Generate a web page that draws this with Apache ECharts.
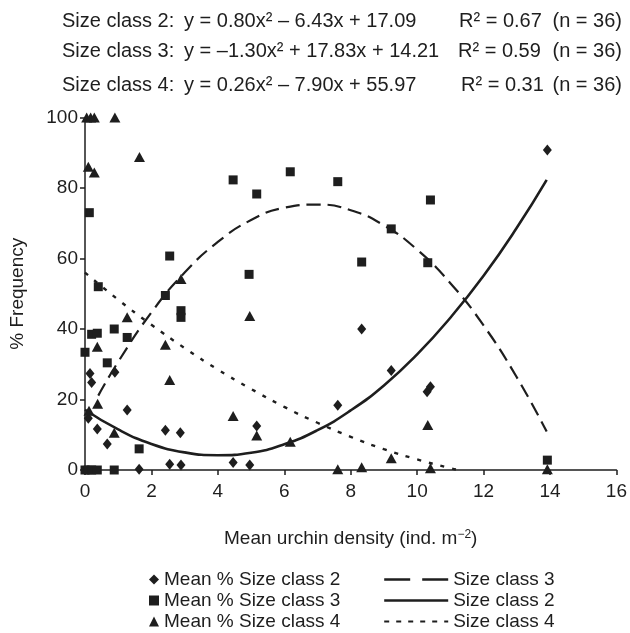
<!DOCTYPE html>
<html><head><meta charset="utf-8">
<script src="https://cdn.jsdelivr.net/npm/echarts@6/dist/echarts.min.js"></script>
<style>html,body{margin:0;padding:0;background:#fff}#c{width:630px;height:633px}</style>
</head><body><div id="c"></div>
<script>
// Scatter data: mean % frequency per size class vs urchin density
const class2X = [0.10, 0.15, 0.20, 0.37, 0.67, 0.90, 1.27, 1.63, 2.42, 2.55, 2.87, 2.89, 4.46, 4.96, 5.17, 7.61, 8.33, 9.22, 10.30, 10.40, 13.92];
const class2Y = [14.7, 27.4, 24.8, 11.6, 7.4, 27.7, 17.0, 0.2, 11.3, 1.6, 10.6, 1.4, 2.1, 1.4, 12.5, 18.4, 40.0, 28.2, 22.2, 23.6, 90.8];

const class3X = [0.00, 0.13, 0.20, 0.37, 0.40, 0.67, 0.88, 1.27, 1.63, 2.42, 2.55, 2.89, 2.89, 4.46, 4.94, 5.17, 6.18, 7.61, 8.33, 9.22, 10.32, 10.40, 13.92, 0.00, 0.10, 0.20, 0.37, 0.88];
const class3Y = [33.4, 73.0, 38.5, 38.8, 52.0, 30.4, 40.0, 37.6, 6.0, 49.5, 60.7, 45.2, 43.3, 82.3, 55.5, 78.3, 84.6, 81.8, 59.0, 68.4, 58.8, 76.6, 2.8, 0, 0, 0, 0, 0];

const class4X = [0.05, 0.17, 0.28, 0.90, 0.10, 0.28, 1.64, 2.89, 1.27, 2.42, 0.37, 2.55, 0.38, 0.12, 0.88, 4.46, 4.96, 5.17, 6.18, 9.22, 7.61, 8.33, 10.32, 10.40, 13.92];
const class4Y = [100, 100, 100, 100, 86.0, 84.4, 88.8, 54.2, 43.3, 35.5, 35.0, 25.5, 18.8, 16.8, 10.6, 15.3, 43.7, 9.8, 8.0, 3.3, 0.2, 0.8, 12.8, 0.5, 0.2];

// Fitted curves
const fit2X = [0, 1, 2, 3, 4, 5, 6, 7, 8, 9, 10, 11, 12, 13, 13.9];
const fit2Y = [17.1, 11.5, 7.4, 5.0, 4.2, 4.9, 7.3, 11.3, 16.9, 24.0, 32.8, 43.2, 55.1, 68.7, 82.3];
const fit3X = [0.4, 1, 2, 3, 4, 5, 6, 7, 8, 9, 10, 11, 12, 13, 13.9];
const fit3Y = [21.1, 30.7, 44.7, 56.0, 64.7, 70.9, 74.4, 75.3, 73.7, 69.4, 62.5, 53.0, 41.0, 26.3, 10.9];
const fit4X = [0, 1, 2, 3, 4, 5, 6, 7, 8, 9, 10, 11, 11.25];
const fit4Y = [56.0, 48.3, 41.2, 34.6, 28.5, 23.0, 17.9, 13.4, 9.4, 5.9, 3.0, 0.5, 0];

// Header texts
const headerLabels = ['Size class 2:', 'Size class 3:', 'Size class 4:'];
const headerEquations = ['y = 0.80x\u00b2 \u2013 6.43x + 17.09', 'y = \u20131.30x\u00b2 + 17.83x + 14.21', 'y = 0.26x\u00b2 \u2013 7.90x + 55.97'];
const headerR2 = ['R\u00b2 = 0.67', 'R\u00b2 = 0.59', 'R\u00b2 = 0.31'];
const headerN = ['(n = 36)', '(n = 36)', '(n = 36)'];

const scatterNames = ['Mean % Size class 2', 'Mean % Size class 3', 'Mean % Size class 4'];
const lineNames = ['Size class 3', 'Size class 2', 'Size class 4'];

const INK = '#1e1e1e';
const FONT = 'Liberation Sans, Arial, Helvetica, sans-serif';
const FS = 19;
const HFS = 20;

function pairs(xs, ys) { return xs.map((x, i) => [x, ys[i]]); }

const rowY = [21, 51, 85];
const rLeft = [459, 458, 461];
const graphics = [];
for (let i = 0; i < 3; i++) {
  const base = { fill: INK, font: HFS + 'px ' + FONT, verticalAlign: 'middle', align: 'left' };
  graphics.push({ type: 'text', x: 62, y: rowY[i], style: Object.assign({ text: headerLabels[i] }, base) });
  graphics.push({ type: 'text', x: 184, y: rowY[i], style: Object.assign({ text: headerEquations[i] }, base) });
  graphics.push({ type: 'text', x: rLeft[i], y: rowY[i], style: Object.assign({ text: headerR2[i] }, base) });
  graphics.push({ type: 'text', x: 622, y: rowY[i], style: Object.assign({}, base, { text: headerN[i], align: 'right' }) });
}

const chart = echarts.init(document.getElementById('c'), null, { renderer: 'canvas' });
chart.setOption({
  animation: false,
  backgroundColor: '#fff',
  textStyle: { fontFamily: FONT, color: INK },
  graphic: graphics,
  grid: { left: 81.5, right: 13, top: 117.5, bottom: 163, containLabel: false },
  xAxis: {
    type: 'value', min: 0, max: 16, interval: 2,
    name: '{a|Mean urchin density (ind. m}{s|\u22122}{a|)}',
    nameLocation: 'middle', nameGap: 59,
    nameTextStyle: { rich: { a: { fontSize: FS, color: INK, fontFamily: FONT }, s: { fontSize: 12, color: INK, fontFamily: FONT, verticalAlign: 'top' } } },
    axisLine: { lineStyle: { color: INK, width: 1.5 } },
    axisTick: { inside: false, length: 5, lineStyle: { color: INK, width: 1.5 } },
    axisLabel: { fontSize: FS, color: INK, margin: 12, fontFamily: FONT },
    splitLine: { show: false }
  },
  yAxis: {
    type: 'value', min: 0, max: 100, interval: 20,
    name: '% Frequency', nameLocation: 'middle', nameGap: 58,
    nameTextStyle: { fontSize: FS, color: INK, fontFamily: FONT },
    axisLine: { show: true, lineStyle: { color: INK, width: 1.5 } },
    axisTick: { show: true, inside: false, length: 5, lineStyle: { color: INK, width: 1.5 } },
    axisLabel: { fontSize: FS, color: INK, margin: 7, fontFamily: FONT },
    splitLine: { show: false }
  },
  legend: [
    { data: scatterNames, orient: 'vertical', left: 144, top: 565, height: 70, itemWidth: 10, itemHeight: 10, itemGap: 2,
      selectedMode: false, textStyle: { fontSize: FS, color: INK, fontFamily: FONT } },
    { data: [
        { name: lineNames[0], lineStyle: { type: [26, 12], width: 2.4 } },
        { name: lineNames[1], lineStyle: { width: 2.4 } },
        { name: lineNames[2], lineStyle: { type: [5, 7], width: 2.2 } }
      ],
      orient: 'vertical', left: 378, top: 565, height: 70, itemWidth: 64, itemHeight: 10, itemGap: 2,
      itemStyle: { color: 'rgba(0,0,0,0)', borderWidth: 0, opacity: 0 },
      selectedMode: false, textStyle: { fontSize: FS, color: INK, fontFamily: FONT } }
  ],
  series: [
    { name: lineNames[0], type: 'line', data: pairs(fit3X, fit3Y), smooth: true, symbol: 'none', showSymbol: false,
      lineStyle: { color: INK, width: 2.2, type: [14, 7] }, itemStyle: { color: 'rgba(0,0,0,0)' }, z: 2 },
    { name: lineNames[1], type: 'line', data: pairs(fit2X, fit2Y), smooth: true, symbol: 'none', showSymbol: false,
      lineStyle: { color: INK, width: 2.6, type: 'solid' }, itemStyle: { color: 'rgba(0,0,0,0)' }, z: 2 },
    { name: lineNames[2], type: 'line', data: pairs(fit4X, fit4Y), smooth: true, symbol: 'none', showSymbol: false,
      lineStyle: { color: INK, width: 2.4, type: [4, 8] }, itemStyle: { color: 'rgba(0,0,0,0)' }, z: 2 },
    { name: scatterNames[0], type: 'scatter', data: pairs(class2X, class2Y), symbol: 'diamond', symbolSize: [9, 11],
      itemStyle: { color: INK, opacity: 1 }, z: 3 },
    { name: scatterNames[1], type: 'scatter', data: pairs(class3X, class3Y), symbol: 'rect', symbolSize: 9,
      itemStyle: { color: INK, opacity: 1 }, z: 3 },
    { name: scatterNames[2], type: 'scatter', data: pairs(class4X, class4Y), symbol: 'triangle', symbolSize: [11, 10],
      itemStyle: { color: INK, opacity: 1 }, z: 3 }
  ]
});
</script></body></html>
